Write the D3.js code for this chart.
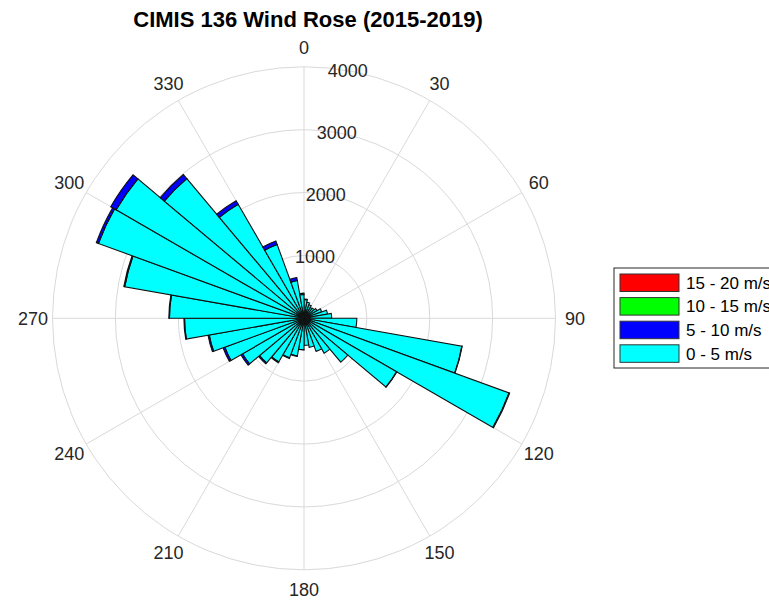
<!DOCTYPE html>
<html>
<head>
<meta charset="utf-8">
<script src="https://cdn.jsdelivr.net/npm/d3@7"></script>
<style>
  html, body { margin: 0; padding: 0; background: #fff; }
  svg { display: block; }
  text { font-family: Arial, "Liberation Sans", Helvetica, sans-serif; }
</style>
</head>
<body>
<svg id="chart" width="769" height="602"></svg>
<script>
// Direction bins (start angle of each 10-degree sector, compass degrees)
const directions = d3.range(0, 360, 10);
// Counts per speed class for each direction bin
const speed0to5 = [
  300, 260, 230, 200, 210, 240, 300, 380, 440,
  840, 2550, 3470, 1700, 910, 640, 560, 470, 430,
  500, 610, 670, 800, 925, 1130, 1340, 1530, 1900,
  2140, 2895, 3480, 3450, 2900, 2095, 1250, 610, 380
];
const speed5to10 = [
  5, 0, 0, 0, 0, 0, 0, 0, 0,
  0, 5, 10, 5, 0, 0, 0, 0, 0,
  5, 5, 10, 15, 20, 30, 30, 20, 10,
  10, 15, 35, 100, 85, 65, 60, 50, 20
];
const speed10to15 = new Array(36).fill(0);
const speed15to20 = new Array(36).fill(0);
const seriesNames = ["0 - 5 m/s", "5 - 10 m/s", "10 - 15 m/s", "15 - 20 m/s"];
const seriesColors = ["#00ffff", "#0000ff", "#00ff00", "#ff0000"];
const ringTicks = [1000, 2000, 3000, 4000];
const angleTicks = d3.range(0, 360, 30);
const titleText = "CIMIS 136 Wind Rose (2015-2019)";

const series = [speed0to5, speed5to10, speed10to15, speed15to20];

const svg = d3.select("#chart");
const cx = 304, cy = 318.3, R = 251.5;
const r = d3.scaleLinear().domain([0, 4000]).range([0, R]);
const toRad = d => d * Math.PI / 180;

const g = svg.append("g").attr("transform", `translate(${cx},${cy})`);

// grid
const gridColor = "#d9d9d9";
g.selectAll("circle.ring").data(ringTicks).join("circle")
  .attr("class", "ring").attr("r", d => r(d))
  .attr("fill", "none").attr("stroke", gridColor).attr("stroke-width", 1);
g.selectAll("line.spoke").data(angleTicks).join("line")
  .attr("class", "spoke")
  .attr("x1", 0).attr("y1", 0)
  .attr("x2", d => R * Math.sin(toRad(d)))
  .attr("y2", d => -R * Math.cos(toRad(d)))
  .attr("stroke", gridColor).attr("stroke-width", 1);

// stacked sectors
const arc = d3.arc();
const segs = [];
directions.forEach((dir, i) => {
  let cum = 0;
  series.forEach((s, k) => {
    const v = s[i];
    if (v > 0) {
      segs.push({ dir, k, inner: cum, outer: cum + v });
    }
    cum += v;
  });
});
g.selectAll("path.seg").data(segs).join("path")
  .attr("class", "seg")
  .attr("d", d => arc({
    innerRadius: r(d.inner), outerRadius: r(d.outer),
    startAngle: toRad(d.dir), endAngle: toRad(d.dir + 10)
  }))
  .attr("fill", d => seriesColors[d.k])
  .attr("stroke", "#111").attr("stroke-width", 1.1)
  .attr("stroke-linejoin", "miter");

// radial tick labels
g.selectAll("text.rlab").data(ringTicks).join("text")
  .attr("class", "rlab")
  .attr("x", d => r(d) * Math.sin(toRad(10)))
  .attr("y", d => -r(d) * Math.cos(toRad(10)))
  .attr("text-anchor", "middle").attr("dy", "0.36em")
  .attr("font-size", 18).attr("fill", "#262626")
  .text(d => d);

// angle labels
const labR = 271;
g.selectAll("text.alab").data(angleTicks).join("text")
  .attr("class", "alab")
  .attr("x", d => labR * Math.sin(toRad(d)))
  .attr("y", d => -labR * Math.cos(toRad(d)))
  .attr("text-anchor", "middle").attr("dy", "0.36em")
  .attr("font-size", 18).attr("fill", "#262626")
  .text(d => d);

// title
svg.append("text")
  .attr("x", 308).attr("y", 27)
  .attr("text-anchor", "middle")
  .attr("font-size", 22).attr("font-weight", "bold").attr("fill", "#000")
  .text(titleText);

// legend
const legend = svg.append("g").attr("transform", "translate(614,268)");
legend.append("rect").attr("x", 0).attr("y", 0).attr("width", 170).attr("height", 100)
  .attr("fill", "#fff").attr("stroke", "#262626").attr("stroke-width", 1);
const order = [3, 2, 1, 0];
order.forEach((k, j) => {
  const y = 6 + j * 23.6;
  legend.append("rect").attr("x", 6).attr("y", y).attr("width", 59).attr("height", 17.5)
    .attr("fill", seriesColors[k]).attr("stroke", "#333").attr("stroke-width", 1);
  legend.append("text").attr("x", 72).attr("y", y + 8.75).attr("dy", "0.36em")
    .attr("font-size", 17).attr("fill", "#000").text(seriesNames[k]);
});
</script>
</body>
</html>
